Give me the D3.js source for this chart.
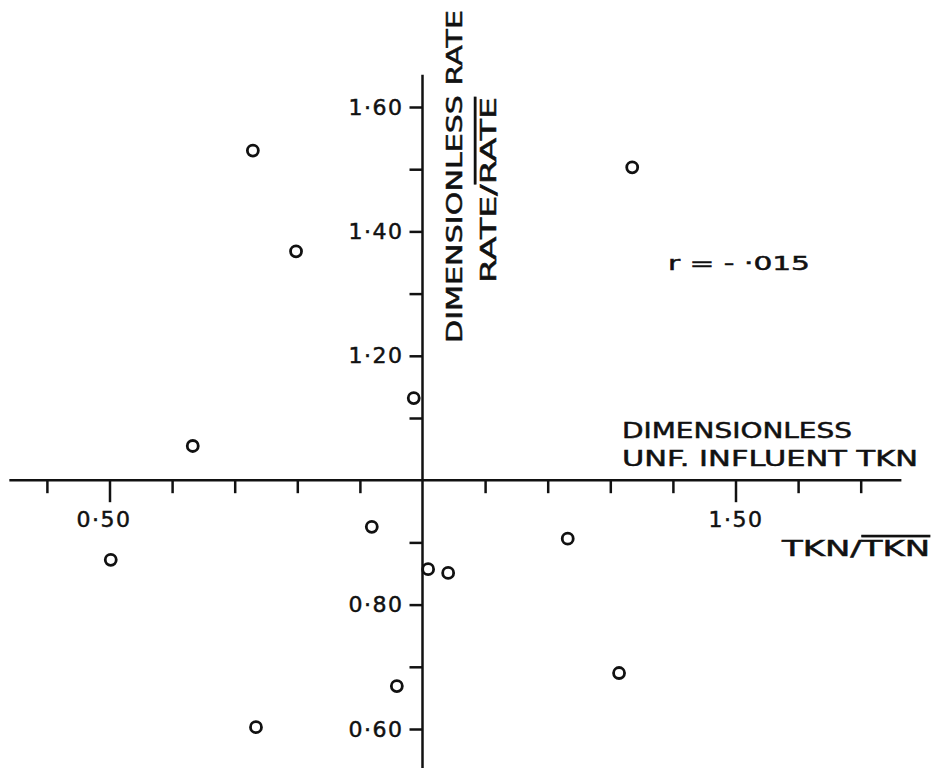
<!DOCTYPE html>
<html>
<head>
<meta charset="utf-8">
<script src="https://cdn.jsdelivr.net/npm/d3@7"></script>
<style>
  body { margin: 0; background: #fff; }
  text { font-family: "DejaVu Sans", sans-serif; fill: #111; stroke: #111; stroke-width: 0.5px; }
</style>
</head>
<body>
<svg id="chart"></svg>
<script>
// Dimensionless TKN (x) vs dimensionless rate (y)
const tkn  = [0.729, 0.798, 1.335, 0.986, 0.633, 0.502, 0.919, 1.009, 1.041, 1.232, 0.959, 0.734, 1.314];
const rate = [1.530, 1.368, 1.503, 1.132, 1.055, 0.872, 0.925, 0.857, 0.851, 0.906, 0.669, 0.603, 0.690];

const xTicks = d3.range(4, 18).map(k => k / 10);   // 0.4 .. 1.7
const yTicks = d3.range(6, 17).map(k => k / 10);   // 0.6 .. 1.6
const xLabelled = [0.5, 1.5];
const yLabelled = [0.6, 0.8, 1.2, 1.4, 1.6];
const fmt = v => d3.format(".2f")(v).replace(".", "\u00b7");

const width = 935, height = 768;
const ink = "#111";

const svg = d3.select("#chart")
    .attr("width", width)
    .attr("height", height);

const x = d3.scaleLinear().domain([0.5, 1.5]).range([109.5, 735.5]);
const y = d3.scaleLinear().domain([0.6, 1.6]).range([729, 107]);

// horizontal axis crosses at rate = 1.0
const gx = svg.append("g")
    .attr("transform", `translate(0,${y(1)})`)
    .call(d3.axisBottom(x)
        .tickValues(xTicks.filter(v => v !== 1))
        .tickSize(13)
        .tickPadding(18)
        .tickFormat(v => xLabelled.includes(v) ? fmt(v) : ""));
gx.select(".domain").remove();
gx.selectAll(".tick line")
    .attr("stroke", ink)
    .attr("stroke-width", 2.5)
    .attr("y2", d => xLabelled.includes(d) ? 22 : 13);
gx.selectAll(".tick text")
    .attr("font-size", 22)
    .attr("letter-spacing", 1.5)
    .attr("dx", d => d === 0.5 ? -6 : 0);
gx.append("line")
    .attr("x1", x(0.34)).attr("x2", x(1.765))
    .attr("stroke", ink).attr("stroke-width", 2.5);

// vertical axis crosses at TKN = 1.0
const gy = svg.append("g")
    .attr("transform", `translate(${x(1)},0)`)
    .call(d3.axisLeft(y)
        .tickValues(yTicks.filter(v => v !== 1))
        .tickSize(13)
        .tickPadding(6)
        .tickFormat(v => yLabelled.some(l => Math.abs(l - v) < 1e-9) ? fmt(v) : ""));
gy.select(".domain").remove();
gy.selectAll(".tick line").attr("stroke", ink).attr("stroke-width", 2.5);
gy.selectAll(".tick text")
    .attr("font-size", 22)
    .attr("letter-spacing", 1.5);
gy.append("line")
    .attr("y1", y(1.652)).attr("y2", height)
    .attr("stroke", ink).attr("stroke-width", 2.5);

// points
svg.append("g")
    .selectAll("circle")
    .data(tkn.map((t, i) => [t, rate[i]]))
    .join("circle")
    .attr("cx", d => x(d[0]))
    .attr("cy", d => y(d[1]))
    .attr("r", 5.5)
    .attr("fill", "none")
    .attr("stroke", ink)
    .attr("stroke-width", 2.8);

// vertical axis title (rotated)
svg.append("text")
    .attr("transform", "translate(462,343) rotate(-90)")
    .attr("font-size", 22)
    .attr("textLength", 333)
    .attr("lengthAdjust", "spacingAndGlyphs")
    .text("DIMENSIONLESS  RATE");

const ry = svg.append("text")
    .attr("transform", "translate(496,283) rotate(-90)")
    .attr("font-size", 22)
    .attr("textLength", 186)
    .attr("lengthAdjust", "spacingAndGlyphs");
ry.append("tspan").text("RATE/");
ry.append("tspan").style("text-decoration", "overline").text("RATE");

// horizontal axis title
svg.append("text")
    .attr("x", 622).attr("y", 438)
    .attr("font-size", 21)
    .attr("textLength", 230)
    .attr("lengthAdjust", "spacingAndGlyphs")
    .text("DIMENSIONLESS");
svg.append("text")
    .attr("x", 622).attr("y", 466)
    .attr("font-size", 21)
    .attr("textLength", 296)
    .attr("lengthAdjust", "spacingAndGlyphs")
    .text("UNF. INFLUENT  TKN");

const tx = svg.append("text")
    .attr("x", 782).attr("y", 556)
    .attr("font-size", 21)
    .attr("textLength", 148)
    .attr("lengthAdjust", "spacingAndGlyphs");
tx.append("tspan").text("TKN/");
tx.append("tspan").style("text-decoration", "overline").text("TKN");

// correlation note
svg.append("text")
    .attr("x", 668).attr("y", 270)
    .attr("font-size", 20)
    .attr("textLength", 142)
    .attr("lengthAdjust", "spacingAndGlyphs")
    .text("r = - \u00b7015");
</script>
</body>
</html>
